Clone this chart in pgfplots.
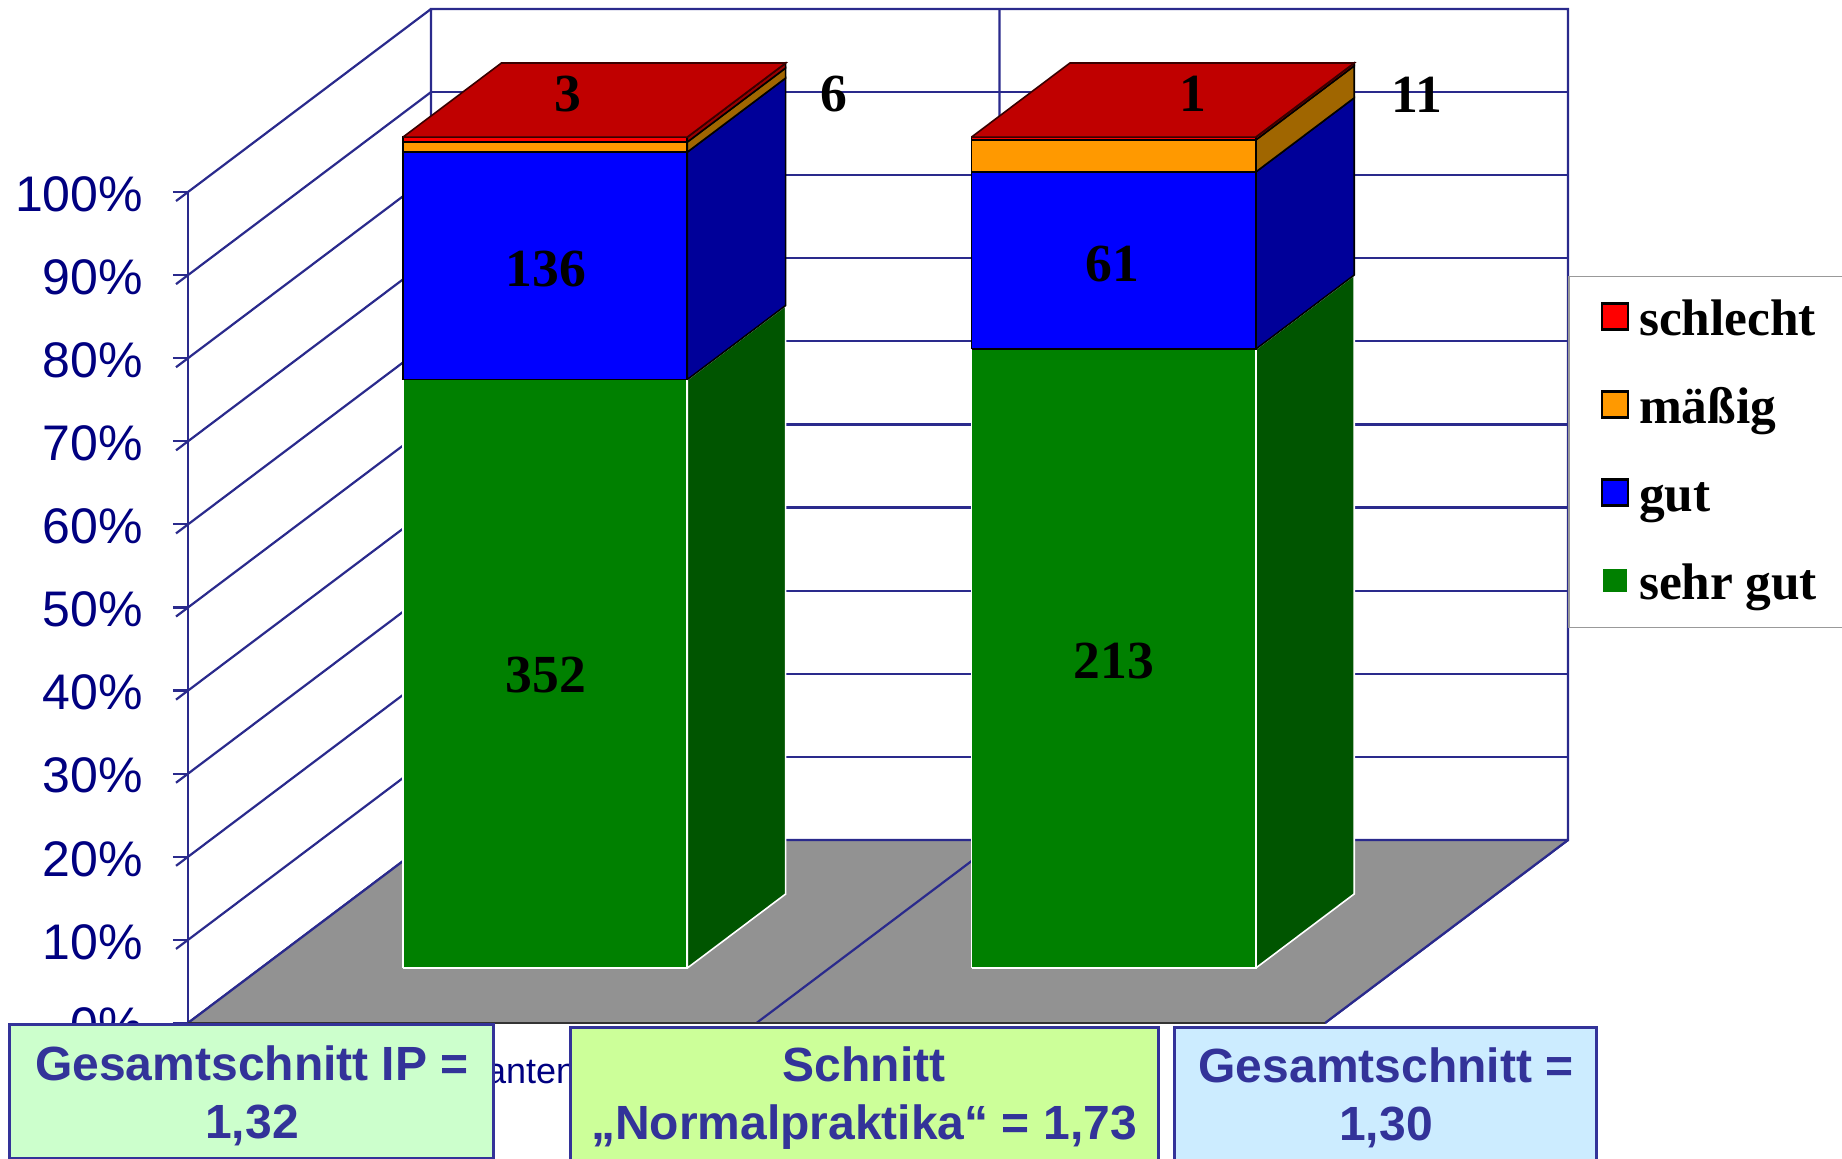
\documentclass[border=0pt]{standalone}
\usepackage{pgfplots}
\pgfplotsset{compat=1.18}
\usepackage{fontspec}
\setmainfont{Liberation Sans}
\newfontfamily\serifb{Liberation Serif}
\definecolor{gridc}{HTML}{2A2A8C}
\definecolor{ticktxt}{HTML}{000080}
\definecolor{boxc}{HTML}{333399}
\definecolor{floorc}{HTML}{929292}
\definecolor{gF}{HTML}{008000}\definecolor{gS}{HTML}{005500}
\definecolor{bF}{HTML}{0000FF}\definecolor{bS}{HTML}{000099}
\definecolor{oF}{HTML}{FF9900}\definecolor{oS}{HTML}{A06600}
\definecolor{rF}{HTML}{FF0000}\definecolor{rS}{HTML}{990000}\definecolor{rT}{HTML}{C00000}
\definecolor{box1}{RGB}{204,255,204}
\definecolor{box2}{RGB}{204,255,153}
\definecolor{box3}{RGB}{204,236,255}
% #1 x-left, #2 x-right, #3 z-low, #4 z-high, #5 front, #6 side, #7 edge
\newcommand{\seg}[7]{%
 \addplot3[forget plot,no marks,fill=#6,draw=#7,line width=.8pt] coordinates {(#2,0.3,#3)(#2,0.705,#3)(#2,0.705,#4)(#2,0.3,#4)(#2,0.3,#3)};
 \addplot3[forget plot,no marks,fill=#5,draw=#7,line width=.8pt] coordinates {(#1,0.3,#3)(#2,0.3,#3)(#2,0.3,#4)(#1,0.3,#4)(#1,0.3,#3)};
}
\newcommand{\topface}[2]{%
 \addplot3[forget plot,no marks,fill=rT,draw=black!70!rT,line width=.8pt] coordinates {(#1,0.3,100)(#2,0.3,100)(#2,0.705,100)(#1,0.705,100)(#1,0.3,100)};
}
\begin{document}
\begin{tikzpicture}
\useasboundingbox (0pt,0pt) rectangle (921pt,-579.5pt);
\begin{axis}[
  at={(94pt,-511.5pt)},anchor=origin,
  x={(284.25pt,0pt)},y={(121.5pt,91.5pt)},z={(0pt,4.155pt)},
  xmin=0,xmax=2,ymin=0,ymax=1,zmin=0,zmax=100,
  clip=false,
  axis lines*=left,
  axis line style={draw=gridc,line width=1.1pt},
  xtick={0.5,1.5},xticklabels={Praktikanten,{}},
  ytick=\empty,
  ztick={0,10,...,100},
  zticklabel={\pgfmathprintnumber{\tick}\%},
  zmajorgrids=true,
  major grid style={draw=gridc,line width=1.1pt},
  tick align=outside,
  major tick length=7.5pt,
  z tick style={draw=gridc,line width=1.1pt},
  x tick style={draw=none},
  tick label style={/pgf/number format/assume math mode=true},
  z tick label style={font=\fontsize{25}{25}\selectfont,text=ticktxt,anchor=east,xshift=-13pt,yshift=3.5pt},
  x tick label style={font=\fontsize{18}{20}\selectfont,text=ticktxt,yshift=-9pt,xshift=13pt},
  legend cell align=left,
  legend image code/.code={\draw[#1,line width=1.2pt] (0pt,-4.75pt) rectangle (13pt,8.25pt);\path[draw=none,fill=none] (0pt,0pt) -- (16.5pt,0pt);},
  legend style={at={(axis cs:2,1,67.9)},anchor=north west,draw=gray!80,fill=white,line width=.8pt,
    font=\serifb\bfseries\fontsize{25.7}{25.7}\selectfont,row sep=20pt,inner xsep=16pt,inner ysep=9.75pt,
    nodes={text width=130pt,align=left,text height=19.75pt,text depth=4.25pt,inner ysep=0pt}},
]
\addplot3[forget plot,no marks,fill=floorc,draw=none] coordinates {(0,0,0)(2,0,0)(2,1,0)(0,1,0)(0,0,0)};
\addplot3[forget plot,no marks,draw=gridc,line width=1.1pt] coordinates {(1,0,0)(1,1,0)(1,1,100)};
\addplot3[forget plot,no marks,draw=gridc,line width=1.1pt] coordinates {(0,0,0)(0,1,0)(0,1,100)(2,1,100)(2,1,0)(0,1,0)};
\addplot3[forget plot,no marks,draw=gridc,line width=1.1pt] coordinates {(2,1,0)(2,0,0)};
\addplot3[forget plot,no marks,draw=black!80,line width=1pt] coordinates {(0,0,0)(2,0,0)};
% bar 1: 352, 136, 6, 3 of 497
\seg{0.25}{0.75}{0}{70.82}{gF}{gS}{white}
\seg{0.25}{0.75}{70.82}{98.19}{bF}{bS}{black}
\seg{0.25}{0.75}{98.19}{99.40}{oF}{oS}{black}
\seg{0.25}{0.75}{99.40}{100}{rF}{rS}{black}
\topface{0.25}{0.75}
% bar 2: 213, 61, 11, 1 of 286
\seg{1.25}{1.75}{0}{74.48}{gF}{gS}{white}
\seg{1.25}{1.75}{74.48}{95.80}{bF}{bS}{black}
\seg{1.25}{1.75}{95.80}{99.65}{oF}{oS}{black}
\seg{1.25}{1.75}{99.65}{100}{rF}{rS}{black}
\topface{1.25}{1.75}
\addlegendimage{fill=rF,draw=black}\addlegendentry{schlecht}
\addlegendimage{fill=oF,draw=black}\addlegendentry{mäßig}
\addlegendimage{fill=bF,draw=black}\addlegendentry{gut}
\addlegendimage{fill=gF,draw=white}\addlegendentry{sehr\hspace{-2.5pt} gut}
\end{axis}
\begin{scope}[x=0.5pt,y=-0.5pt]
% value labels
\begin{scope}[every node/.style={font=\serifb\bfseries\fontsize{26.8}{26.8}\selectfont,text=black,inner sep=0pt}]
\node at (546,675) {352};
\node at (546,269) {136};
\node at (568,94) {3};
\node at (834,94) {6};
\node at (1114,661) {213};
\node at (1112,264) {61};
\node at (1193,94) {1};
\node at (1417,95) {11};
\end{scope}
% average boxes
\tikzset{avgbox/.style={draw=boxc,line width=1.6pt,anchor=north west,inner sep=0pt},
         avgtxt/.style={text=boxc,align=center,inner sep=0pt,font=\bfseries\fontsize{24}{29}\selectfont}}
\node[avgbox,fill=box1,minimum width=242pt,minimum height=67pt] at (8,1023) {};
\node[avgtxt] at (252,1096) {Gesamtschnitt IP =\\1,32};
\node[avgbox,fill=box2,minimum width=294pt,minimum height=72pt] at (569,1026) {};
\node[avgtxt] at (864,1098) {Schnitt\\„Normalpraktika“ = 1,73};
\node[avgbox,fill=box3,minimum width=211pt,minimum height=72pt] at (1173,1026) {};
\node[avgtxt] at (1386,1098) {Gesamtschnitt =\\1,30};
\end{scope}
\end{tikzpicture}
\end{document}
